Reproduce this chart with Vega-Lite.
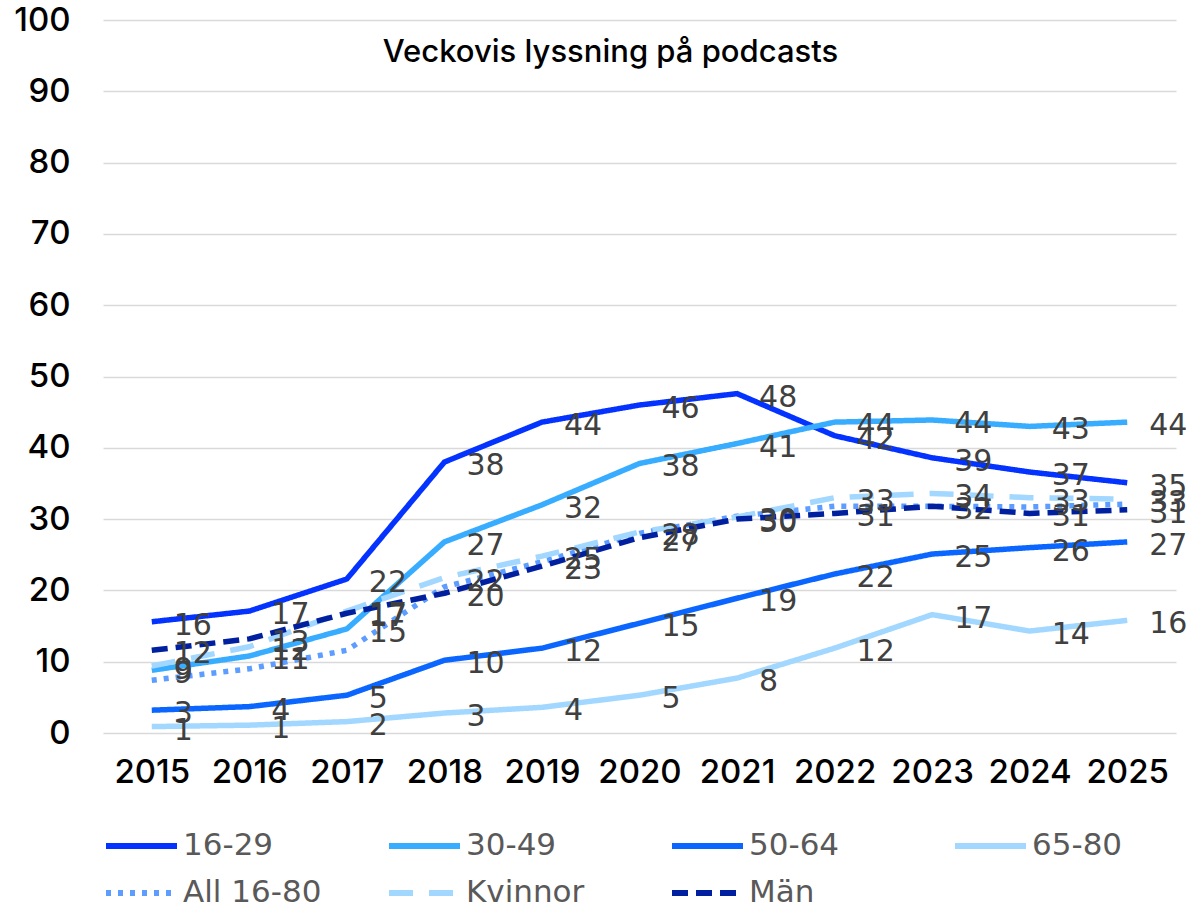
{
  "$schema": "https://vega.github.io/schema/vega-lite/v6.json",
  "width": 1073,
  "height": 713,
  "autosize": {"type": "none"},
  "padding": {"left": 103, "top": 20, "right": 17, "bottom": 176},
  "background": "white",
  "title": {
    "text": "Veckovis lyssning på podcasts",
    "font": "Inter",
    "fontSize": 31,
    "fontWeight": 500,
    "color": "#000000",
    "anchor": "middle",
    "baseline": "middle",
    "offset": -35,
    "dy": 45,
    "dx": -29
  },
  "data": {
    "values": [
      {"year": "2015", "series": "16-29", "value": 15.6},
      {"year": "2016", "series": "16-29", "value": 17.1},
      {"year": "2017", "series": "16-29", "value": 21.6},
      {"year": "2018", "series": "16-29", "value": 38.0},
      {"year": "2019", "series": "16-29", "value": 43.6},
      {"year": "2020", "series": "16-29", "value": 46.0},
      {"year": "2021", "series": "16-29", "value": 47.6},
      {"year": "2022", "series": "16-29", "value": 41.7},
      {"year": "2023", "series": "16-29", "value": 38.6},
      {"year": "2024", "series": "16-29", "value": 36.6},
      {"year": "2025", "series": "16-29", "value": 35.1},
      {"year": "2015", "series": "30-49", "value": 8.8},
      {"year": "2016", "series": "30-49", "value": 10.8},
      {"year": "2017", "series": "30-49", "value": 14.6},
      {"year": "2018", "series": "30-49", "value": 26.8},
      {"year": "2019", "series": "30-49", "value": 32.0},
      {"year": "2020", "series": "30-49", "value": 37.8},
      {"year": "2021", "series": "30-49", "value": 40.6},
      {"year": "2022", "series": "30-49", "value": 43.6},
      {"year": "2023", "series": "30-49", "value": 43.9},
      {"year": "2024", "series": "30-49", "value": 43.0},
      {"year": "2025", "series": "30-49", "value": 43.6},
      {"year": "2015", "series": "50-64", "value": 3.2},
      {"year": "2016", "series": "50-64", "value": 3.7},
      {"year": "2017", "series": "50-64", "value": 5.3},
      {"year": "2018", "series": "50-64", "value": 10.2},
      {"year": "2019", "series": "50-64", "value": 11.9},
      {"year": "2020", "series": "50-64", "value": 15.4},
      {"year": "2021", "series": "50-64", "value": 18.9},
      {"year": "2022", "series": "50-64", "value": 22.3},
      {"year": "2023", "series": "50-64", "value": 25.1},
      {"year": "2024", "series": "50-64", "value": 26.0},
      {"year": "2025", "series": "50-64", "value": 26.8},
      {"year": "2015", "series": "65-80", "value": 0.9},
      {"year": "2016", "series": "65-80", "value": 1.1},
      {"year": "2017", "series": "65-80", "value": 1.6},
      {"year": "2018", "series": "65-80", "value": 2.8},
      {"year": "2019", "series": "65-80", "value": 3.6},
      {"year": "2020", "series": "65-80", "value": 5.3},
      {"year": "2021", "series": "65-80", "value": 7.7},
      {"year": "2022", "series": "65-80", "value": 11.9},
      {"year": "2023", "series": "65-80", "value": 16.6},
      {"year": "2024", "series": "65-80", "value": 14.3},
      {"year": "2025", "series": "65-80", "value": 15.8},
      {"year": "2015", "series": "All 16-80", "value": 7.4},
      {"year": "2016", "series": "All 16-80", "value": 9.0},
      {"year": "2017", "series": "All 16-80", "value": 11.6},
      {"year": "2018", "series": "All 16-80", "value": 20.5},
      {"year": "2019", "series": "All 16-80", "value": 24.0},
      {"year": "2020", "series": "All 16-80", "value": 28.0},
      {"year": "2021", "series": "All 16-80", "value": 30.4},
      {"year": "2022", "series": "All 16-80", "value": 31.8},
      {"year": "2023", "series": "All 16-80", "value": 31.8},
      {"year": "2024", "series": "All 16-80", "value": 31.7},
      {"year": "2025", "series": "All 16-80", "value": 32.1},
      {"year": "2015", "series": "Kvinnor", "value": 9.4},
      {"year": "2016", "series": "Kvinnor", "value": 12.1},
      {"year": "2017", "series": "Kvinnor", "value": 17.1},
      {"year": "2018", "series": "Kvinnor", "value": 21.8},
      {"year": "2019", "series": "Kvinnor", "value": 24.8},
      {"year": "2020", "series": "Kvinnor", "value": 28.2},
      {"year": "2021", "series": "Kvinnor", "value": 30.3},
      {"year": "2022", "series": "Kvinnor", "value": 33.0},
      {"year": "2023", "series": "Kvinnor", "value": 33.6},
      {"year": "2024", "series": "Kvinnor", "value": 33.0},
      {"year": "2025", "series": "Kvinnor", "value": 32.8},
      {"year": "2015", "series": "Män", "value": 11.6},
      {"year": "2016", "series": "Män", "value": 13.2},
      {"year": "2017", "series": "Män", "value": 16.8},
      {"year": "2018", "series": "Män", "value": 19.6},
      {"year": "2019", "series": "Män", "value": 23.4},
      {"year": "2020", "series": "Män", "value": 27.4},
      {"year": "2021", "series": "Män", "value": 30.0},
      {"year": "2022", "series": "Män", "value": 30.8},
      {"year": "2023", "series": "Män", "value": 31.8},
      {"year": "2024", "series": "Män", "value": 30.8},
      {"year": "2025", "series": "Män", "value": 31.3}
    ]
  },
  "encoding": {
    "x": {
      "field": "year",
      "type": "ordinal",
      "scale": {"type": "point", "padding": 0.5},
      "axis": {
        "title": null,
        "labelAngle": 0,
        "domain": false,
        "ticks": false,
        "tickSize": 0,
        "grid": false,
        "labelPadding": 23,
        "labelFont": "Inter",
        "labelFontSize": 33,
        "labelFontWeight": 500,
        "labelColor": "#000000"
      }
    },
    "y": {
      "field": "value",
      "type": "quantitative",
      "scale": {"domain": [0, 100], "nice": false, "zero": true},
      "axis": {
        "title": null,
        "values": [0, 10, 20, 30, 40, 50, 60, 70, 80, 90, 100],
        "domain": false,
        "ticks": false,
        "tickSize": 0,
        "grid": true,
        "gridColor": "#d9d9d9",
        "gridWidth": 1.5,
        "labelPadding": 33,
        "labelFont": "Inter",
        "labelFontSize": 33,
        "labelFontWeight": 500,
        "labelColor": "#000000"
      }
    }
  },
  "layer": [
    {
      "mark": {"type": "line", "strokeWidth": 5.5, "strokeCap": "butt", "strokeJoin": "round"},
      "encoding": {
        "color": {
          "field": "series",
          "type": "nominal",
          "scale": {
            "domain": ["16-29", "30-49", "50-64", "65-80", "All 16-80", "Kvinnor", "Män"],
            "range": ["#0433FF", "#38ACFF", "#0A66FF", "#A2D7FF", "#5C9DFF", "#A2D7FF", "#00209F"]
          },
          "legend": {
            "title": null,
            "orient": "none",
            "direction": "horizontal",
            "legendX": 0,
            "legendY": 810,
            "columns": 4,
            "gridAlign": "all",
            "columnPadding": 64,
            "rowPadding": 15,
            "clipHeight": 32,
            "symbolType": "stroke",
            "symbolSize": 5041,
            "symbolStrokeWidth": 6,
            "labelOffset": 3,
            "labelFont": "DejaVu Sans",
            "labelFontSize": 31,
            "labelColor": "#595959",
            "padding": 0
          }
        },
        "strokeDash": {
          "field": "series",
          "type": "nominal",
          "scale": {
            "domain": ["16-29", "30-49", "50-64", "65-80", "All 16-80", "Kvinnor", "Män"],
            "range": [[1, 0], [1, 0], [1, 0], [1, 0], [5, 7], [24, 16], [16, 8]]
          },
          "legend": null
        }
      }
    },
    {
      "transform": [{"filter": "datum.series !== 'All 16-80'"}],
      "mark": {
        "type": "text",
        "align": "left",
        "baseline": "middle",
        "dx": 22,
        "dy": 4,
        "font": "DejaVu Sans",
        "fontSize": 30,
        "color": "#404040"
      },
      "encoding": {
        "text": {"field": "value", "type": "quantitative", "format": ".0f"}
      }
    }
  ],
  "config": {
    "view": {"stroke": null}
  }
}
